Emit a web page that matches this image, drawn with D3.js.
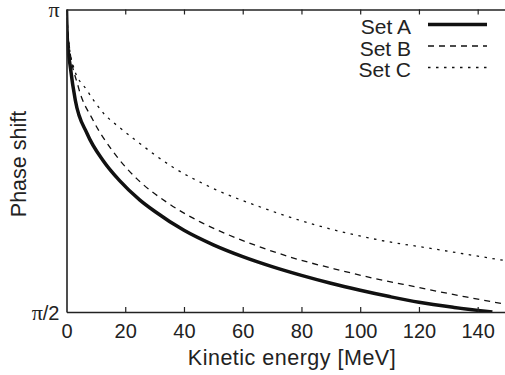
<!DOCTYPE html>
<html>
<head>
<meta charset="utf-8">
<script src="https://cdnjs.cloudflare.com/ajax/libs/d3/7.8.5/d3.min.js"></script>
<style>
  body { margin: 0; background: #fff; }
  text { font-family: "Liberation Sans", Arial, sans-serif; fill: #222; }
</style>
</head>
<body>
<div id="chart"></div>
<script>
// kinetic energy [MeV] and phase shift [rad]
var energyA = [0, 0.3, 1.3, 3, 7, 12.5, 18, 25, 30, 40, 50, 60, 70, 80, 90, 100, 110, 120, 132, 145]
var phaseA = [3.1416, 2.9845, 2.8431, 2.6704, 2.4976, 2.3562, 2.2541, 2.1520, 2.0939, 1.9949, 1.9195, 1.8583, 1.8064, 1.7609, 1.7200, 1.6839, 1.6509, 1.6211, 1.5944, 1.5708]

var energyB = [0, 0.7, 4, 9, 15.5, 20.5, 24, 34, 45.5, 57, 64, 76, 93, 104, 119, 136, 150]
var phaseB = [3.1416, 2.985, 2.741, 2.568, 2.411, 2.317, 2.262, 2.142, 2.039, 1.960, 1.919, 1.857, 1.788, 1.748, 1.701, 1.649, 1.610]

var energyC = [0, 0.7, 2.4, 7, 12.6, 18.3, 23, 36, 50, 66, 85, 107, 124, 150]
var phaseC = [3.1416, 2.985, 2.843, 2.722, 2.603, 2.526, 2.469, 2.325, 2.212, 2.116, 2.022, 1.943, 1.901, 1.836]

var seriesNames = ['Set A', 'Set B', 'Set C']
var xTicks = [0, 20, 40, 60, 80, 100, 120, 140]
var yTicks = [Math.PI / 2, Math.PI]
var yTickLabels = [['π', '/2'], ['π', '']]

var width = 505,
    height = 375,
    plotLeft = 66.5,
    plotTop = 9.5,
    plotBottom = 312

var svg = d3.select('#chart').append('svg')
    .attr('width', width)
    .attr('height', height)

var x = d3.scaleLinear()
    .domain([0, 150])
    .range([plotLeft, plotLeft + 150 * 2.937])

var y = d3.scaleLinear()
    .domain([Math.PI / 2, Math.PI])
    .range([plotBottom, plotTop])

svg.append('clipPath').attr('id', 'plot')
    .append('rect')
    .attr('x', plotLeft).attr('y', plotTop - 2)
    .attr('width', width - plotLeft).attr('height', plotBottom - plotTop + 2)

var line = d3.line()
    .x(function (d) { return x(d[0]) })
    .y(function (d) { return y(d[1]) })
    .curve(d3.curveMonotoneX)

var styles = [
    { w: 3.5, dash: null },
    { w: 1.3, dash: '6,5' },
    { w: 1.3, dash: '2.5,5.5' }
]

var sets = [
    d3.zip(energyA, phaseA),
    d3.zip(energyB, phaseB),
    d3.zip(energyC, phaseC)
]

var g = svg.append('g').attr('clip-path', 'url(#plot)')
sets.forEach(function (pts, i) {
    g.append('path')
        .attr('d', line(pts))
        .attr('fill', 'none')
        .attr('stroke', '#111')
        .attr('stroke-width', styles[i].w)
        .attr('stroke-dasharray', styles[i].dash)
})

// axes
var gx = svg.append('g')
    .attr('transform', 'translate(0,' + plotBottom + ')')
    .call(d3.axisBottom(x)
        .tickValues(xTicks)
        .tickSize(-5)
        .tickSizeOuter(0)
        .tickPadding(12))

var gt = svg.append('g')
    .attr('transform', 'translate(0,' + plotTop + ')')
    .call(d3.axisTop(x).tickValues(xTicks).tickSize(-5).tickSizeOuter(0).tickFormat(''))

var gy = svg.append('g')
    .attr('transform', 'translate(' + plotLeft + ',0)')
    .call(d3.axisLeft(y)
        .tickValues(yTicks)
        .tickSize(0)
        .tickSizeOuter(0)
        .tickPadding(7)
        .tickFormat(''))

;[gx, gt, gy].forEach(function (a) {
    a.selectAll('.domain').attr('stroke', '#222').attr('stroke-width', 1.6)
    a.selectAll('.tick line').attr('stroke', '#222').attr('stroke-width', 1.2)
    a.selectAll('text')
        .style('font-family', '"Liberation Sans", Arial, sans-serif')
        .style('font-size', '20px')
        .attr('fill', '#222')
})
gx.selectAll('.tick line').filter(function (d) { return d === 0 }).remove()
gt.selectAll('.tick line').filter(function (d) { return d === 0 }).remove()

// pi labels: serif pi, sans digits
gy.selectAll('.tick text').each(function (d, i) {
    var t = d3.select(this).attr('dy', '0.36em')
    t.append('tspan')
        .style('font-family', '"Liberation Serif", "DejaVu Serif", serif')
        .style('font-size', '22px')
        .text(yTickLabels[i][0])
    t.append('tspan').text(yTickLabels[i][1])
})

// axis titles
svg.append('text')
    .attr('x', 292)
    .attr('y', 365)
    .attr('text-anchor', 'middle')
    .style('font-size', '21.5px')
    .style('letter-spacing', '0.5px')
    .text('Kinetic energy [MeV]')

svg.append('text')
    .attr('transform', 'translate(26,164) rotate(-90)')
    .attr('text-anchor', 'middle')
    .style('font-size', '21.5px')
    .text('Phase shift')

// legend
var legend = svg.append('g')
seriesNames.forEach(function (name, i) {
    var by = 34 + i * 21.5
    legend.append('text')
        .attr('x', 411)
        .attr('y', by)
        .attr('text-anchor', 'end')
        .style('font-size', '21px')
        .text(name)
    legend.append('line')
        .attr('x1', 428).attr('x2', 487)
        .attr('y1', by - 9.5).attr('y2', by - 9.5)
        .attr('stroke', '#111')
        .attr('stroke-width', styles[i].w)
        .attr('stroke-dasharray', styles[i].dash)
})
</script>
</body>
</html>
